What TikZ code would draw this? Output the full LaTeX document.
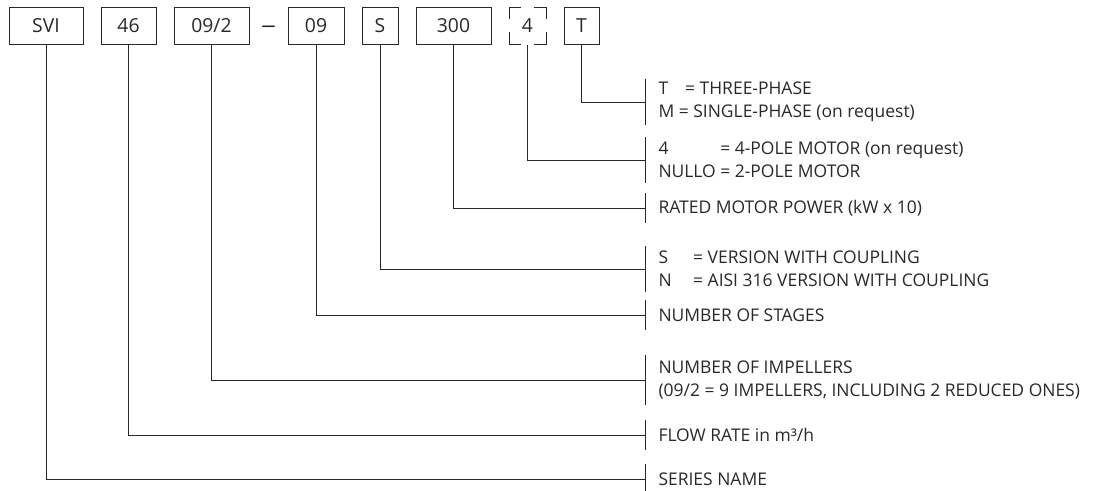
\documentclass[tikz,border=0pt]{standalone}
\usepackage{fontspec}
\setmainfont{Open Sans}
\usetikzlibrary{positioning,calc}
\definecolor{ink}{RGB}{40,40,40}

\begin{document}
\begin{tikzpicture}[x=0.75pt,y=-0.75pt,line width=0.75pt,draw=ink,text=ink,
  node distance=12.75pt,
  code/.style={draw,minimum height=27.75pt,inner sep=0pt,
    font=\fontsize{14.5}{14.5}\selectfont},
  optcode/.style={code,dash pattern=on 18pt off 9.75pt,dash phase=9pt},
  desc/.style={align=left,inner sep=0pt,
    font=\fontsize{13.1}{17.25}\selectfont}]

\useasboundingbox (0,0) rectangle (1094,490);

% code of the pump
\node[code,minimum width=55.5pt] (svi) at (46,25.5) {SVI};
\node[code,minimum width=41.25pt] (flow) [right=of svi] {46};
\node[code,minimum width=56.25pt] (imp) [right=of flow] {09/2};
\node[code,minimum width=42pt] (stg) [right=28.5pt of imp] {09};
\node[yshift=-2.5pt,font=\fontsize{16}{16}\selectfont\addfontfeature{FakeStretch=1.4}] (dash)
  at ($(imp.east)!0.5!(stg.west)$) {–};
\node[code,minimum width=27pt] (ver) [right=of stg] {S};
\node[code,minimum width=56.25pt] (pow) [right=of ver] {300};
\node[optcode,minimum width=27.75pt] (pole) [right=of pow] {4};
\node[code,minimum width=26.25pt] (ph) [right=of pole] {T};

% junctions on the right
\coordinate (jPh) at (645,102);
\coordinate (jPole) at (645,160);
\coordinate (jPow) at (645,208);
\coordinate (jVer) at (645,269);
\coordinate (jStg) at (645,315);
\coordinate (jImp) at (645,380);
\coordinate (jFlow) at (645,435);
\coordinate (jSvi) at (645,479);

% meanings
\node[desc,right=9.75pt of jPh] (dPh)
  {\makebox[20pt][l]{T}= THREE-PHASE\\M = SINGLE-PHASE (on request)};
\node[desc,right=9.75pt of jPole] (dPole)
  {\rlap{4}\phantom{NULLO} = 4-POLE MOTOR (on request)\\NULLO = 2-POLE MOTOR};
\node[desc,right=9.75pt of jPow] (dPow) {RATED MOTOR POWER (kW x 10)};
\node[desc,right=9.75pt of jVer] (dVer)
  {\makebox[26pt][l]{S}= VERSION WITH COUPLING\\\makebox[26pt][l]{N}= AISI 316 VERSION WITH COUPLING};
\node[desc,right=9.75pt of jStg] (dStg) {NUMBER OF STAGES};
\node[desc,right=9.75pt of jImp] (dImp)
  {NUMBER OF IMPELLERS\\(09/2 = 9 IMPELLERS, INCLUDING 2 REDUCED ONES)};
\node[desc,right=9.75pt of jFlow] (dFlow) {FLOW RATE in m³/h};
\node[desc,right=9.75pt of jSvi] (dSvi) {SERIES NAME};

% leaders
\draw (ph.south) |- (jPh);
\draw (pole.south) |- (jPole);
\draw (pow.south) |- (jPow);
\draw (ver.south) |- (jVer);
\draw (stg.south) |- (jStg);
\draw (imp.south) |- (jImp);
\draw (flow.south) |- (jFlow);
\draw (svi.south) |- (jSvi);

% bars
\draw ($(jPh)+(0,-23)$) -- ($(jPh)+(0,23)$);
\draw ($(jPole)+(0,-23)$) -- ($(jPole)+(0,23)$);
\draw ($(jPow)+(0,-15)$) -- ($(jPow)+(0,15)$);
\draw ($(jVer)+(0,-23)$) -- ($(jVer)+(0,23)$);
\draw ($(jStg)+(0,-15)$) -- ($(jStg)+(0,15)$);
\draw ($(jImp)+(0,-25)$) -- ($(jImp)+(0,25)$);
\draw ($(jFlow)+(0,-15)$) -- ($(jFlow)+(0,15)$);
\draw ($(jSvi)+(0,-15)$) -- ($(jSvi)+(0,15)$);

\end{tikzpicture}
\end{document}
